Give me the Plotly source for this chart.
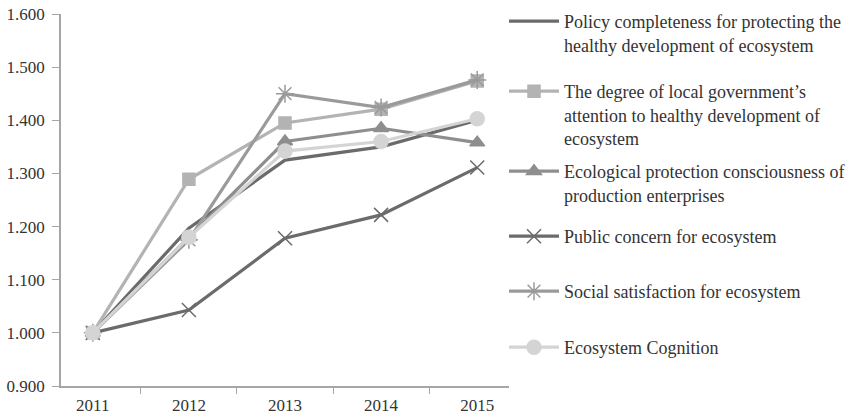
import plotly.graph_objects as go

years = ["2011", "2012", "2013", "2014", "2015"]
policy = [1.000, 1.197, 1.325, 1.350, 1.400]
degree = [1.000, 1.289, 1.395, 1.421, 1.474]
ecological = [1.000, 1.180, 1.360, 1.385, 1.358]
public = [1.000, 1.043, 1.178, 1.222, 1.311]
social = [1.000, 1.175, 1.450, 1.424, 1.476]
cognition = [1.000, 1.180, 1.342, 1.360, 1.403]

series_names = [
    "Policy completeness for protecting the<br>healthy development of ecosystem",
    "The degree of local government’s<br>attention to healthy development of<br>ecosystem",
    "Ecological protection consciousness of<br>production enterprises",
    "Public concern for ecosystem",
    "Social satisfaction for ecosystem",
    "Ecosystem Cognition",
]
series_values = [policy, degree, ecological, public, social, cognition]
colors = ["#6b6b6b", "#b3b3b3", "#8e8e8e", "#6b6b6b", "#9a9a9a", "#d4d4d4"]
symbols = [None, "square", "triangle-up", "x-thin-open", "asterisk-open", "circle"]
sizes = [0, 12, 13, 14, 15, 14]

W, H = 858, 417
ml, mr, mt, mb = 61, 349, 14, 31
plot_h = H - mt - mb
plot_w = W - ml - mr
# legend placement (pixel, tuned)
legend_px = [14, 84, 164, 229, 284, 340]

fig = go.Figure()
FONT = "Liberation Serif, Times New Roman, serif"
for i, (nm, vals) in enumerate(zip(series_names, series_values)):
    lg = "legend" if i == 0 else f"legend{i+1}"
    mk = dict(color=colors[i])
    mode = "lines"
    if symbols[i]:
        mode = "lines+markers"
        mk = dict(color=colors[i], symbol=symbols[i], size=sizes[i],
                  line=dict(color=colors[i], width=1.5))
    fig.add_trace(go.Scatter(
        x=years, y=vals, name=nm, mode=mode,
        line=dict(color=colors[i], width=3.2),
        marker=mk, legend=lg, showlegend=True,
    ))

layout_legends = {}
for i, py in enumerate(legend_px):
    key = "legend" if i == 0 else f"legend{i+1}"
    yp = 1 - (py - mt - 11) / plot_h
    layout_legends[key] = dict(
        x=1 - 5 / plot_w, xanchor="left", y=yp, yanchor="top", valign="top",
        font=dict(family=FONT, size=18, color="#333333"),
        bgcolor="rgba(0,0,0,0)", borderwidth=0,
        itemwidth=50,
    )

fig.update_layout(
    width=W, height=H,
    margin=dict(l=ml, r=mr, t=mt, b=mb, autoexpand=False),
    plot_bgcolor="white", paper_bgcolor="white",
    font=dict(family=FONT, size=17, color="#333333"),
    xaxis=dict(
        type="category", showgrid=False, zeroline=False,
        showline=True, linecolor="#a6a6a6", linewidth=1.5,
        ticks="outside", tickson="boundaries", ticklen=6, tickcolor="#a6a6a6",
        ticklabelstandoff=3,
        tickfont=dict(family=FONT, size=17, color="#333333"),
        automargin=False,
    ),
    yaxis=dict(
        range=[0.9, 1.6], dtick=0.1, tickformat=".3f",
        showgrid=False, zeroline=False,
        showline=True, linecolor="#a6a6a6", linewidth=1.5,
        ticks="outside", ticklen=7, tickcolor="#a6a6a6",
        ticklabelstandoff=4, automargin=False,
        tickfont=dict(family=FONT, size=17, color="#333333"),
    ),
    **layout_legends,
)

fig.write_html("out.html")
